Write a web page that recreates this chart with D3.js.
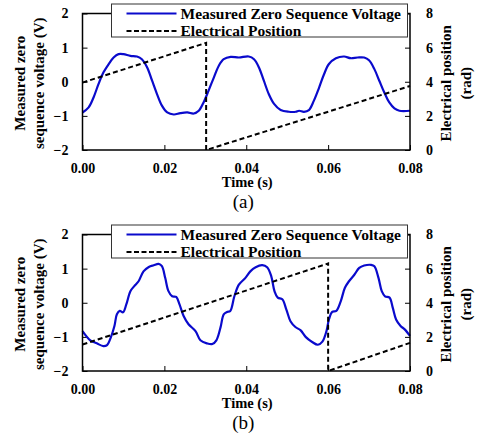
<!DOCTYPE html>
<html>
<head>
<meta charset="utf-8">
<script src="https://cdn.jsdelivr.net/npm/d3@7"></script>
<style>
  body { margin: 0; background: #fff; }
  svg { display: block; }
</style>
</head>
<body>
<div id="chart"></div>
<script>
// ---- data ----
const timeTicks = [0, 0.02, 0.04, 0.06, 0.08];
const voltTicks = [-2, -1, 0, 1, 2];
const posTicks = [0, 2, 4, 6, 8];
const legendLabels = ['Measured Zero Sequence Voltage', 'Electrical Position'];
const panelLabels = ['(a)', '(b)'];

// (a) measured zero sequence voltage
const timeA = [0, 0.0015, 0.0027, 0.0039, 0.0051, 0.0064, 0.0076, 0.0088, 0.0100, 0.0117,
  0.0133, 0.0145, 0.0158, 0.0170, 0.0182, 0.0194, 0.0207, 0.0223, 0.0239, 0.0256,
  0.0272, 0.0284, 0.0296, 0.0308, 0.0321, 0.0333, 0.0345, 0.0362, 0.0382, 0.0406,
  0.0419, 0.0431, 0.0443, 0.0455, 0.0468, 0.0484, 0.0504, 0.0521, 0.0529, 0.0541,
  0.0553, 0.0565, 0.0578, 0.0590, 0.0602, 0.0619, 0.0639, 0.0655, 0.0672, 0.0688,
  0.0700, 0.0713, 0.0725, 0.0737, 0.0749, 0.0762, 0.0774, 0.0800];
const voltA = [-0.90, -0.75, -0.46, -0.07, 0.27, 0.52, 0.71, 0.81, 0.81, 0.76,
  0.74, 0.66, 0.42, 0.03, -0.36, -0.70, -0.90, -0.96, -0.92, -0.90,
  -0.93, -0.85, -0.60, -0.26, 0.13, 0.47, 0.66, 0.73, 0.71, 0.74,
  0.66, 0.42, 0.03, -0.36, -0.65, -0.83, -0.88, -0.88, -0.85, -0.88,
  -0.83, -0.56, -0.17, 0.22, 0.52, 0.69, 0.74, 0.69, 0.71, 0.71,
  0.63, 0.37, 0.03, -0.31, -0.60, -0.78, -0.85, -0.85];
// (a) electrical position
const posTimeA = [0, 0.0302, 0.0302, 0.08];
const posA = [3.95, 6.28, 0, 3.75];

// (b) measured zero sequence voltage
const timeB = [0, 0.0019, 0.0035, 0.0051, 0.0060, 0.0069, 0.0078, 0.0084, 0.0091, 0.0099,
  0.0107, 0.0117, 0.0126, 0.0137, 0.0149, 0.0162, 0.0174, 0.0186, 0.0194, 0.0202,
  0.0210, 0.0219, 0.0229, 0.0237, 0.0247, 0.0259, 0.0276, 0.0288, 0.0304, 0.0317,
  0.0327, 0.0337, 0.0345, 0.0353, 0.0361, 0.0371, 0.0382, 0.0398, 0.0410, 0.0423,
  0.0439, 0.0451, 0.0461, 0.0469, 0.0477, 0.0488, 0.0498, 0.0508, 0.0520, 0.0533,
  0.0545, 0.0561, 0.0575, 0.0586, 0.0596, 0.0602, 0.0610, 0.0620, 0.0631, 0.0641,
  0.0651, 0.0664, 0.0676, 0.0688, 0.0705, 0.0713, 0.0723, 0.0731, 0.0739, 0.0750,
  0.0758, 0.0766, 0.0777, 0.0787, 0.0800];
const voltB = [-0.83, -1.10, -1.19, -1.27, -1.24, -1.02, -0.68, -0.34, -0.24, -0.28,
  -0.05, 0.34, 0.48, 0.63, 0.92, 1.05, 1.10, 1.14, 1.07, 0.73,
  0.34, 0.19, 0.17, -0.05, -0.39, -0.63, -0.83, -1.10, -1.19, -1.21,
  -1.10, -0.73, -0.34, -0.27, -0.24, 0.19, 0.53, 0.73, 0.92, 1.04,
  1.10, 1.04, 0.78, 0.34, 0.15, 0.10, -0.20, -0.54, -0.71, -0.81,
  -1.00, -1.15, -1.23, -1.14, -0.83, -0.49, -0.27, -0.24, 0.05, 0.44,
  0.63, 0.82, 1.02, 1.09, 1.11, 1.07, 0.73, 0.34, 0.19, 0.15,
  -0.15, -0.49, -0.68, -0.78, -0.97];
// (b) electrical position
const posTimeB = [0, 0.0600, 0.0600, 0.08];
const posB = [1.55, 6.30, 0, 1.65];

// ---- layout ----
const width = 484, height = 441;
const font = '"Liberation Serif", "Times New Roman", serif';
const margin = { left: 82.5, top: 13.5 };
const innerWidth = 327.5, innerHeight = 136.5;
const panelOffset = 221;
const blue = '#0a0acc';

const svg = d3.select('#chart')
  .append('svg')
  .attr('width', width)
  .attr('height', height)
  .attr('font-family', font);

const x = d3.scaleLinear().domain([0, 0.08]).range([0, innerWidth]);
const yV = d3.scaleLinear().domain([-2, 2]).range([innerHeight, 0]);
const yP = d3.scaleLinear().domain([0, 8]).range([innerHeight, 0]);

function drawPanel(idx, times, volts, posTimes, pos) {
  const g = svg.append('g')
    .attr('transform', `translate(${margin.left}, ${margin.top + idx * panelOffset})`);

  // axes, ticks pointing inwards
  const xAxis = g.append('g')
    .attr('transform', `translate(0, ${innerHeight})`)
    .call(d3.axisBottom(x).tickValues(timeTicks).tickFormat(d3.format('.2f'))
      .tickSize(-5).tickPadding(13));
  const yAxisL = g.append('g')
    .call(d3.axisLeft(yV).tickValues(voltTicks).tickFormat(d3.format('d'))
      .tickSize(-5).tickPadding(14));
  const yAxisR = g.append('g')
    .attr('transform', `translate(${innerWidth}, 0)`)
    .call(d3.axisRight(yP).tickValues(posTicks).tickFormat(d3.format('d'))
      .tickSize(-5).tickPadding(16));

  [xAxis, yAxisL, yAxisR].forEach(a => {
    a.attr('font-family', font)
      .attr('font-size', 14)
      .attr('font-weight', 'bold');
    a.select('.domain').remove();
    a.selectAll('.tick line').attr('stroke', '#000').attr('stroke-width', 1);
    a.selectAll('.tick text').attr('fill', '#000');
  });

  // series
  const vLine = d3.line()
    .x(d => x(d[0]))
    .y(d => yV(d[1]))
    .curve(d3.curveCatmullRom.alpha(0.5));
  g.append('path')
    .datum(times.map((t, i) => [t, volts[i]]))
    .attr('d', vLine)
    .attr('fill', 'none')
    .attr('stroke', blue)
    .attr('stroke-width', 2.2)
    .attr('stroke-linejoin', 'round');

  const pLine = d3.line()
    .x(d => x(d[0]))
    .y(d => yP(d[1]));
  g.append('path')
    .datum(posTimes.map((t, i) => [t, pos[i]]))
    .attr('d', pLine)
    .attr('fill', 'none')
    .attr('stroke', '#000')
    .attr('stroke-width', 2)
    .attr('stroke-dasharray', '5,3');

  // frame
  g.append('rect')
    .attr('width', innerWidth)
    .attr('height', innerHeight)
    .attr('fill', 'none')
    .attr('stroke', '#000')
    .attr('stroke-width', 1.5);

  // legend box (sits over the top border)
  const lg = g.append('g').attr('transform', `translate(29, -9.5)`);
  lg.append('rect')
    .attr('width', 296)
    .attr('height', 33)
    .attr('fill', '#fff')
    .attr('stroke', '#333')
    .attr('stroke-width', 1);
  lg.append('line')
    .attr('x1', 15).attr('x2', 65).attr('y1', 9.5).attr('y2', 9.5)
    .attr('stroke', blue).attr('stroke-width', 2.2);
  lg.append('line')
    .attr('x1', 15).attr('x2', 65).attr('y1', 27).attr('y2', 27)
    .attr('stroke', '#000').attr('stroke-width', 2).attr('stroke-dasharray', '5,2.5');
  legendLabels.forEach((t, i) => {
    lg.append('text')
      .text(t)
      .attr('x', 69)
      .attr('y', 14.5 + i * 17.5)
      .attr('font-size', 15.5)
      .attr('font-weight', 'bold');
  });

  // axis titles
  g.append('text')
    .text('Time (s)')
    .attr('x', innerWidth / 2 + 1)
    .attr('y', innerHeight + 37)
    .attr('text-anchor', 'middle')
    .attr('font-size', 14.5)
    .attr('font-weight', 'bold');

  g.append('text')
    .text(panelLabels[idx])
    .attr('x', innerWidth / 2 - 3)
    .attr('y', innerHeight + 58)
    .attr('text-anchor', 'middle')
    .attr('font-size', 19);

  const cy = innerHeight / 2 + 1.5;
  [['Measured zero', -58], ['sequence voltage (V)', -39]].forEach(([t, dx]) => {
    g.append('text')
      .text(t)
      .attr('transform', `translate(${dx}, ${cy}) rotate(-90)`)
      .attr('text-anchor', 'middle')
      .attr('font-size', 15)
      .attr('font-weight', 'bold');
  });
  [['Electrical position', innerWidth + 41], ['(rad)', innerWidth + 61]].forEach(([t, dx]) => {
    g.append('text')
      .text(t)
      .attr('transform', `translate(${dx}, ${cy}) rotate(-90)`)
      .attr('text-anchor', 'middle')
      .attr('font-size', 15)
      .attr('font-weight', 'bold');
  });
}

drawPanel(0, timeA, voltA, posTimeA, posA);
drawPanel(1, timeB, voltB, posTimeB, posB);
</script>
</body>
</html>
